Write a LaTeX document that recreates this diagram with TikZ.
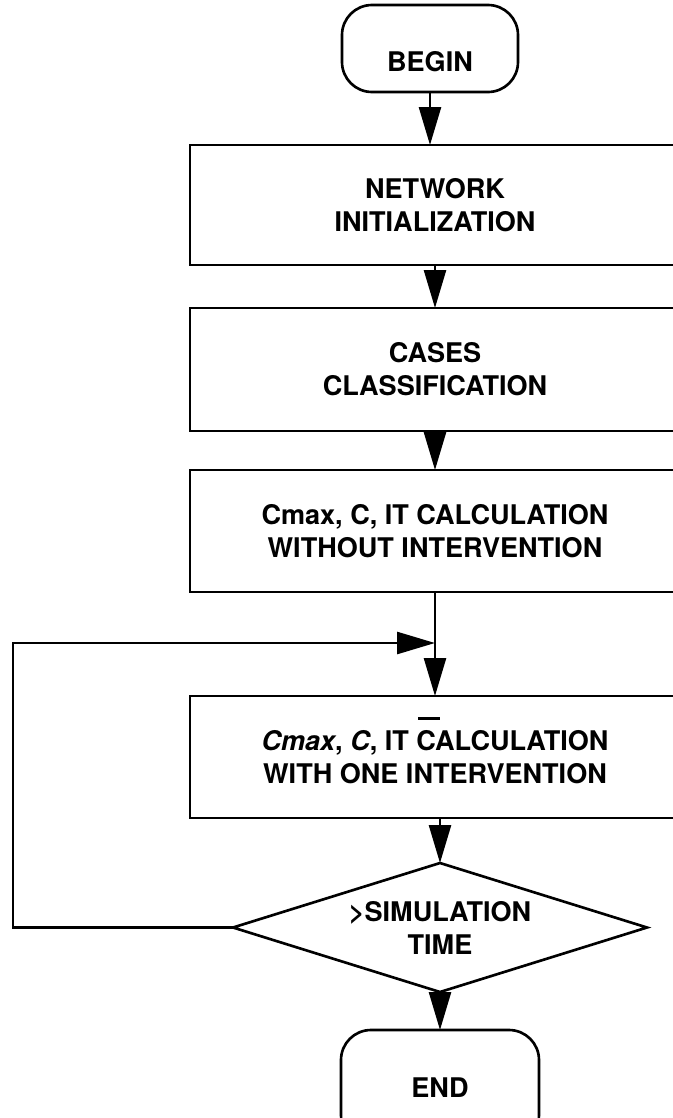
\documentclass[tikz,border=0pt]{standalone}
\usepackage{fontspec}
\setmainfont{TeX Gyre Heros}
\usetikzlibrary{arrows.meta,positioning,shapes.geometric}
\tikzset{
  flowarrow/.style={-{Triangle[length=0.76cm,width=0.44cm]}, line width=1.5pt},
  flowterm/.style={
    draw,
    line width=1.5pt,
    outer sep=0pt,
    rounded corners=0.6cm,
    align=center,
    font=\fontsize{15.4pt}{18.8pt}\selectfont\bfseries,
    minimum width=3.52cm,
    minimum height=1.74cm,
    inner sep=0pt
  },
  flowstep/.style={
    draw,
    line width=1.5pt,
    outer sep=0pt,
    align=center,
    font=\fontsize{15.4pt}{18.8pt}\selectfont\bfseries,
    minimum width=9.8cm,
    minimum height=2.44cm,
    inner sep=0pt
  },
  flowtest/.style={
    draw,
    diamond,
    aspect=3.2,
    line width=1.5pt,
    outer sep=0pt,
    align=center,
    font=\fontsize{15.4pt}{18.8pt}\selectfont\bfseries,
    minimum width=8.28cm,
    minimum height=2.58cm,
    inner sep=0pt
  }
}

\begin{document}
\begin{tikzpicture}
  \useasboundingbox (0,0) rectangle (13.46,-22.36);
  \clip (0,0) rectangle (13.46,-22.36);
  \node[flowterm, text height=0.92cm, text depth=0pt] (begin) at (8.6,-0.97) {BEGIN};
  \node[flowstep, minimum height=2.4cm, below=1.06cm of begin, xshift=0.1cm] (init) {NETWORK\\INITIALIZATION};
  \node[flowstep, minimum height=2.46cm, below=0.86cm of init] (classif) {CASES\\CLASSIFICATION};
  \node[flowstep, below=0.78cm of classif] (calc0) {Cmax, C, IT CALCULATION\\WITHOUT INTERVENTION};
  \node[flowstep, below=2.08cm of calc0] (calc1) {\textit{Cmax}, \textit{C}, IT \smash{\rlap{\kern0.04cm\raisebox{0.6cm}{\rule{0.44cm}{0.06cm}}}}CALCULATION\\WITH ONE INTERVENTION};
  \node[flowtest, below=0.9cm of calc1, xshift=0.1cm] (test) {>SIMULATION\\TIME};
  \node[flowterm, minimum width=3.96cm, minimum height=2.3cm, below=0.76cm of test] (end) {END};
  \coordinate (corner) at (0.26,-12.86);

  \draw[flowarrow] (begin.south) -- (begin.south |- init.north);
  \draw[flowarrow] (init) -- (classif);
  \draw[flowarrow] (classif) -- (calc0);
  \draw[flowarrow] (calc0) -- (calc1);
  \draw[flowarrow] (calc1.south -| test.north) -- (test.north);
  \draw[flowarrow] (test) -- (end);
  \draw[flowarrow] (test.west) -| (corner) -- (corner -| calc1);
\end{tikzpicture}
\end{document}
